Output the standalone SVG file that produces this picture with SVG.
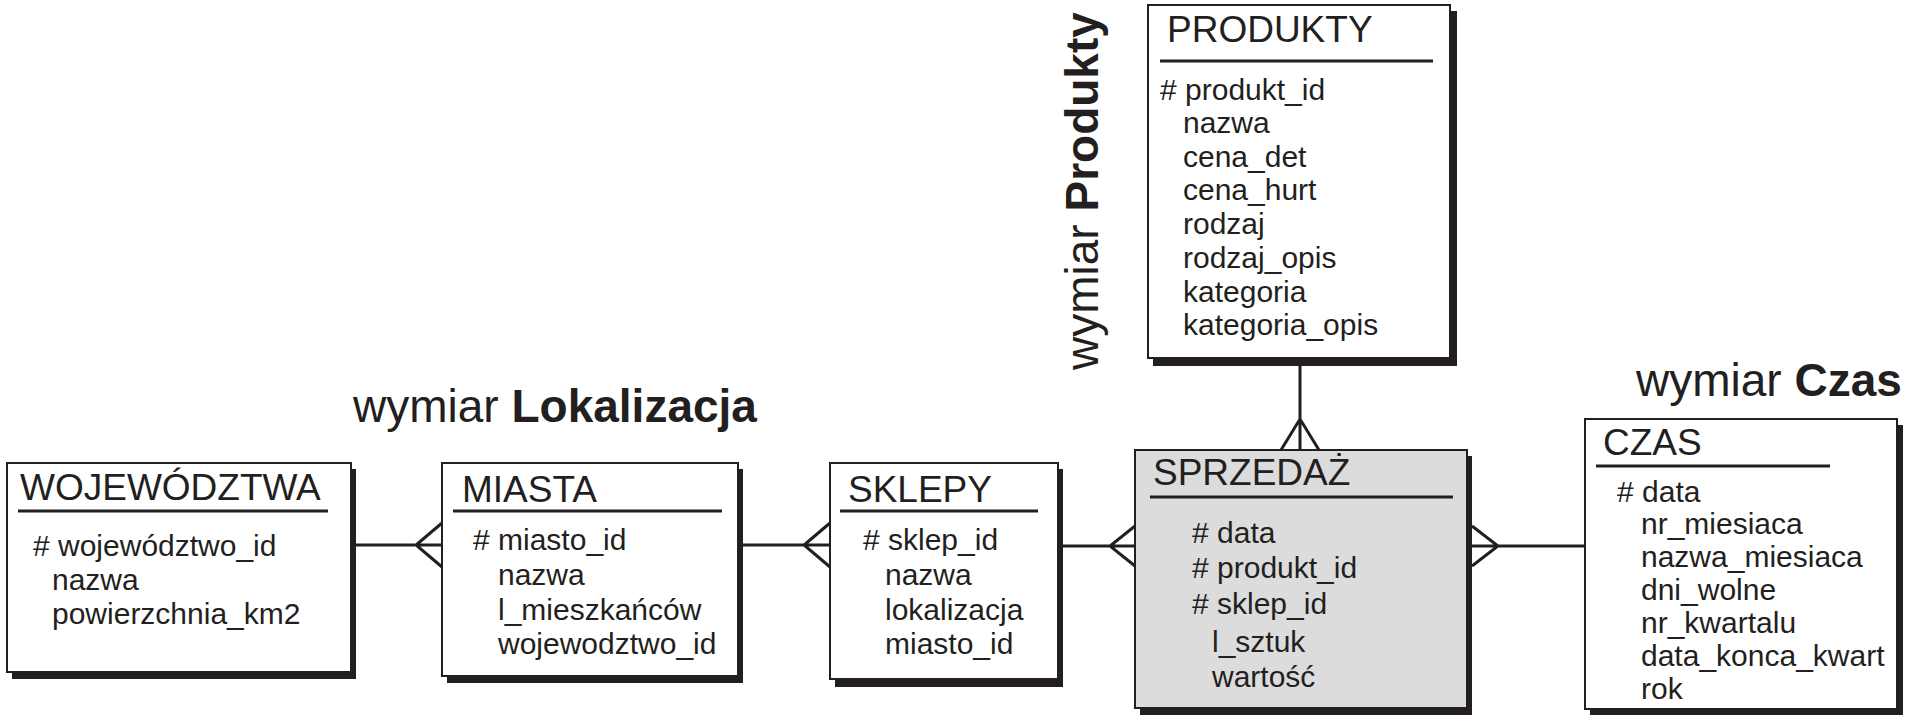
<svg xmlns="http://www.w3.org/2000/svg" width="1909" height="716" viewBox="0 0 1909 716">
<style>
text{font-family:"Liberation Sans",Arial,sans-serif;fill:#231f20}
.t{font-size:37px}
.a{font-size:30px}
.h{font-size:46px}
.b{font-weight:bold}
.sh{fill:#231f20}
.box{fill:#fff;stroke:#231f20;stroke-width:2}
.fact{fill:#dcdcdc;stroke:#231f20;stroke-width:2}
.ul{stroke:#231f20;stroke-width:3}
.c{stroke:#231f20;stroke-width:3;fill:none}
</style>
<rect width="1909" height="716" fill="#fff"/>
<g id="labels">
<text class="h" x="353" y="422">wymiar <tspan class="b">Lokalizacja</tspan></text>
<text class="h" x="1636" y="396">wymiar <tspan class="b">Czas</tspan></text>
<text class="h" transform="translate(1098,370) rotate(-90)">wymiar <tspan class="b">Produkty</tspan></text>
</g>
<g id="connectors">
<path class="c" d="M356,545 H442 M442,523 L416,545 L442,567"/>
<path class="c" d="M743,545 H830 M830,523 L804,545 L830,567"/>
<path class="c" d="M1063,546 H1135 M1135,526 L1110,546 L1135,566"/>
<path class="c" d="M1472,546 H1585 M1472,526 L1498,546 L1472,566"/>
<path class="c" d="M1300,366 V450 M1281,450 L1300,419 L1319,450"/>
</g>
<g id="wojewodztwa">
<rect class="sh" x="12" y="469" width="344" height="210"/>
<rect class="box" x="7" y="463" width="344" height="209"/>
<text class="t" x="20" y="500">WOJEWÓDZTWA</text>
<line class="ul" x1="18" y1="511" x2="328" y2="511"/>
<text class="a" x="33" y="556"># województwo_id</text>
<text class="a" x="52" y="590">nazwa</text>
<text class="a" x="52" y="624">powierzchnia_km2</text>
</g>
<g id="miasta">
<rect class="sh" x="447" y="469" width="296" height="214"/>
<rect class="box" x="442" y="463" width="296" height="213"/>
<text class="t" x="462" y="502">MIASTA</text>
<line class="ul" x1="453" y1="511" x2="722" y2="511"/>
<text class="a" x="473" y="550"># miasto_id</text>
<text class="a" x="498" y="585">nazwa</text>
<text class="a" x="498" y="620">l_mieszkańców</text>
<text class="a" x="498" y="654">wojewodztwo_id</text>
</g>
<g id="sklepy">
<rect class="sh" x="835" y="469" width="228" height="218"/>
<rect class="box" x="830" y="463" width="228" height="216"/>
<text class="t" x="848" y="502">SKLEPY</text>
<line class="ul" x1="840" y1="511" x2="1038" y2="511"/>
<text class="a" x="863" y="550"># sklep_id</text>
<text class="a" x="885" y="585">nazwa</text>
<text class="a" x="885" y="620">lokalizacja</text>
<text class="a" x="885" y="654">miasto_id</text>
</g>
<g id="sprzedaz">
<rect class="sh" x="1140" y="456" width="332" height="259"/>
<rect class="fact" x="1135" y="450" width="332" height="258"/>
<text class="t" x="1153" y="485">SPRZEDAŻ</text>
<line class="ul" x1="1150" y1="497" x2="1453" y2="497"/>
<text class="a" x="1192" y="543"># data</text>
<text class="a" x="1192" y="578"># produkt_id</text>
<text class="a" x="1192" y="614"># sklep_id</text>
<text class="a" x="1212" y="652">l_sztuk</text>
<text class="a" x="1212" y="687">wartość</text>
</g>
<g id="czas">
<rect class="sh" x="1590" y="425" width="313" height="290"/>
<rect class="box" x="1585" y="419" width="312" height="290"/>
<text class="t" x="1603" y="455">CZAS</text>
<line class="ul" x1="1596" y1="466" x2="1830" y2="466"/>
<text class="a" x="1617" y="502"># data</text>
<text class="a" x="1641" y="534">nr_miesiaca</text>
<text class="a" x="1641" y="567">nazwa_miesiaca</text>
<text class="a" x="1641" y="600">dni_wolne</text>
<text class="a" x="1641" y="633">nr_kwartalu</text>
<text class="a" x="1641" y="666">data_konca_kwart</text>
<text class="a" x="1641" y="699">rok</text>
</g>
<g id="produkty">
<rect class="sh" x="1153" y="11" width="304" height="355"/>
<rect class="box" x="1148" y="5" width="302" height="353"/>
<text class="t" x="1167" y="42">PRODUKTY</text>
<line class="ul" x1="1160" y1="61" x2="1433" y2="61"/>
<text class="a" x="1160" y="100"># produkt_id</text>
<text class="a" x="1183" y="133">nazwa</text>
<text class="a" x="1183" y="167">cena_det</text>
<text class="a" x="1183" y="200">cena_hurt</text>
<text class="a" x="1183" y="234">rodzaj</text>
<text class="a" x="1183" y="268">rodzaj_opis</text>
<text class="a" x="1183" y="302">kategoria</text>
<text class="a" x="1183" y="335">kategoria_opis</text>
</g>
</svg>
